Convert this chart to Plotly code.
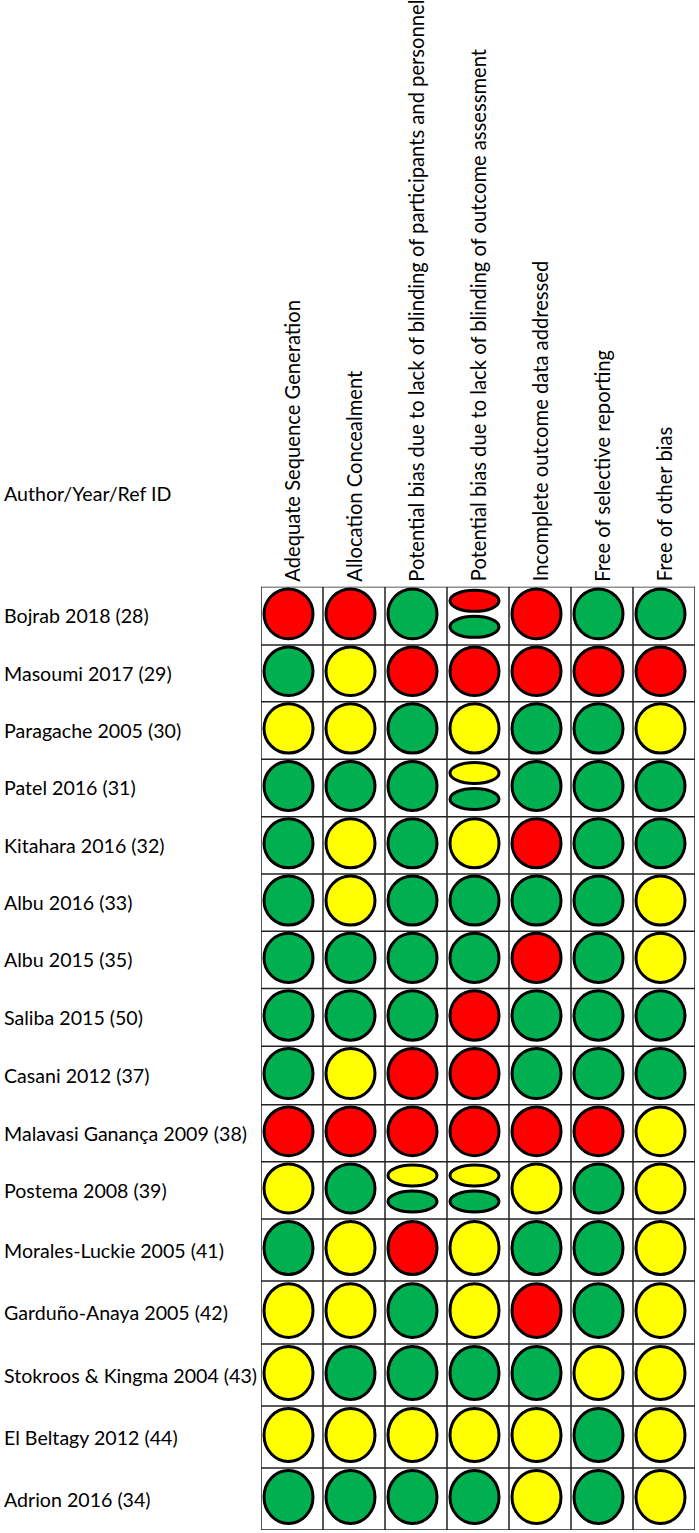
import plotly.graph_objects as go

# ---------------- data ----------------
studies = [
    "Bojrab 2018 (28)", "Masoumi 2017 (29)", "Paragache 2005 (30)", "Patel 2016 (31)",
    "Kitahara 2016 (32)", "Albu 2016 (33)", "Albu 2015 (35)", "Saliba 2015 (50)",
    "Casani 2012 (37)", "Malavasi Ganança 2009 (38)", "Postema 2008 (39)",
    "Morales-Luckie 2005 (41)", "Garduño-Anaya 2005 (42)", "Stokroos & Kingma 2004 (43)",
    "El Beltagy 2012 (44)", "Adrion 2016 (34)",
]
domains = [
    "Adequate Sequence Generation",
    "Allocation Concealment",
    "Potential bias due to lack of blinding of participants and personnel",
    "Potential bias due to lack of blinding of outcome assessment",
    "Incomplete outcome data addressed",
    "Free of selective reporting",
    "Free of other bias",
]
row_header = "Author/Year/Ref ID"
# R = high risk, Y = unclear, G = low risk, "A/B" = split judgement
ratings = [
    ["R", "R", "G", "R/G", "R", "G", "G"],
    ["G", "Y", "R", "R", "R", "R", "R"],
    ["Y", "Y", "G", "Y", "G", "G", "Y"],
    ["G", "G", "G", "Y/G", "G", "G", "G"],
    ["G", "Y", "G", "Y", "R", "G", "G"],
    ["G", "Y", "G", "G", "G", "G", "Y"],
    ["G", "G", "G", "G", "R", "G", "Y"],
    ["G", "G", "G", "R", "G", "G", "G"],
    ["G", "Y", "R", "R", "G", "G", "G"],
    ["R", "R", "R", "R", "R", "R", "Y"],
    ["Y", "G", "Y/G", "Y/G", "Y", "G", "Y"],
    ["G", "Y", "R", "Y", "G", "G", "Y"],
    ["Y", "Y", "G", "Y", "R", "G", "Y"],
    ["Y", "G", "G", "G", "G", "Y", "Y"],
    ["Y", "Y", "Y", "Y", "Y", "G", "Y"],
    ["G", "G", "G", "G", "Y", "G", "Y"],
]

# ---------------- style / layout ----------------
COLORS = {"R": "#FF0000", "Y": "#FFFF00", "G": "#00B050"}
W, H = 699, 1533
GRID_L, GRID_R, GRID_T, GRID_B = 261, 695, 586.7, 1530
row_heights = [58.3, 56.7, 57.6, 57.4, 57.3, 57.3, 57.4, 57.8, 58.5, 57.0, 57.3,
               62.0, 63.0, 62.0, 62.0, 62.0]
FONT = "Lato"
FS_ROW = 19.6
FS_HEAD = 20.2
LABEL_X = 2
SHIFT_X_PX, SHIFT_Y_PX = -3.5, -2.0   # symbols sit slightly up-left in each cell

bounds = [0.0]
for h in row_heights:
    bounds.append(bounds[-1] + h)
total = bounds[-1]
ncol = len(domains)

fig = go.Figure()
# invisible trace to establish axes
fig.add_trace(go.Scatter(x=[0, ncol], y=[0, total], mode="markers",
                         marker=dict(opacity=0), hoverinfo="skip", showlegend=False))

shapes = []
grid_col = "#222222"
for c in range(ncol + 1):
    shapes.append(dict(type="line", xref="x", yref="y", x0=c, x1=c, y0=0, y1=total,
                       line=dict(color=grid_col, width=1.5), layer="below"))
for b in bounds:
    shapes.append(dict(type="line", xref="x", yref="y", x0=0, x1=ncol, y0=b, y1=b,
                       line=dict(color=grid_col, width=1.5), layer="below"))

col_px = (GRID_R - GRID_L) / ncol
y_px = (GRID_B - GRID_T) / total
cw = 49.0 / col_px          # circle width in x units
dx = SHIFT_X_PX / col_px
dy = SHIFT_Y_PX / y_px
for r, row in enumerate(ratings):
    y_top, y_bot = bounds[r], bounds[r + 1]
    yc = (y_top + y_bot) / 2 + dy
    ch = row_heights[r] * 0.855
    for c, val in enumerate(row):
        xc = c + 0.5 + dx
        if "/" in val:
            top, bot = val.split("/")
            eh = 21.0
            off = 13.0
            for colr, yy in ((top, yc - off), (bot, yc + off)):
                shapes.append(dict(type="circle", xref="x", yref="y",
                                   x0=xc - cw / 2, x1=xc + cw / 2,
                                   y0=yy - eh / 2, y1=yy + eh / 2,
                                   fillcolor=COLORS[colr], line=dict(color="black", width=3)))
        else:
            shapes.append(dict(type="circle", xref="x", yref="y",
                               x0=xc - cw / 2, x1=xc + cw / 2,
                               y0=yc - ch / 2, y1=yc + ch / 2,
                               fillcolor=COLORS[val], line=dict(color="black", width=3)))

annotations = []
for c, d in enumerate(domains):
    annotations.append(dict(text=d, x=c + 0.5, xref="x", y=1 - (GRID_T - 3) / H, yref="paper",
                            xanchor="center", yanchor="bottom", textangle=-90,
                            showarrow=False, font=dict(family=FONT, size=FS_HEAD, color="black")))
for r, s in enumerate(studies):
    yc = (bounds[r] + bounds[r + 1]) / 2
    annotations.append(dict(text=s, x=LABEL_X / W, xref="paper", y=yc, yref="y",
                            xanchor="left", yanchor="middle", showarrow=False,
                            font=dict(family=FONT, size=FS_ROW, color="black")))
annotations.append(dict(text=row_header, x=LABEL_X / W, xref="paper", y=1 - 493 / H,
                        yref="paper", xanchor="left", yanchor="middle", showarrow=False,
                        font=dict(family=FONT, size=FS_ROW, color="black")))

fig.update_layout(
    width=W, height=H, margin=dict(l=0, r=0, t=0, b=0),
    paper_bgcolor="white", plot_bgcolor="white",
    xaxis=dict(range=[0, ncol], domain=[GRID_L / W, GRID_R / W], visible=False, fixedrange=True),
    yaxis=dict(range=[total, 0], domain=[1 - GRID_B / H, 1 - GRID_T / H], visible=False, fixedrange=True),
    shapes=shapes, annotations=annotations, showlegend=False,
)
# remove the default page margin so the figure fills the window exactly
fig.write_html("out.html", config={"displayModeBar": False},
               post_script="document.body.style.margin='0';")
